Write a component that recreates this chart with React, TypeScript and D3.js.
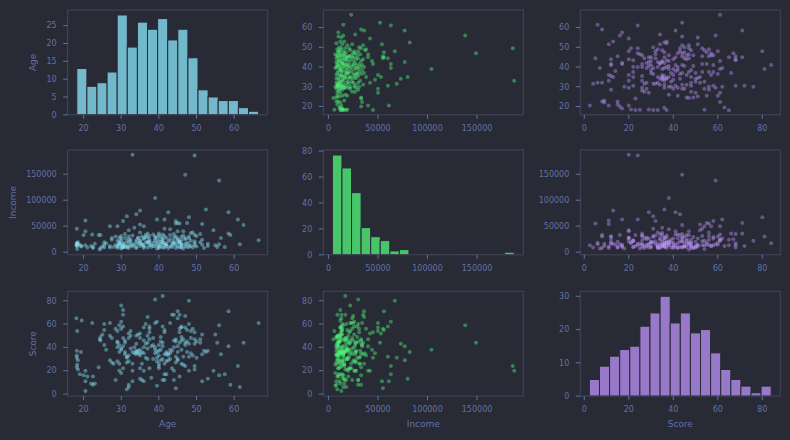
import React from 'react';
import * as d3 from 'd3';

// Pair plot of Age / Income / Score (250 customers)
const variables = ['Age', 'Income', 'Score'];

// raw points, one entry per customer (same index in each array)
const ages = [
  18.1, 18.3, 19.5, 18.2, 19.3, 18.2, 18.2, 18.5, 18.3, 18.2, 18.5, 19.0, 20.5, 20.0, 21.0, 20.5,
  20.5, 22.3, 22.5, 23.0, 22.5, 22.0, 24.0, 24.5, 24.3, 24.5, 25.0, 25.5, 25.5, 25.5, 26.0,
  27.0, 27.0, 27.5, 27.0, 27.5, 28.0, 28.5, 28.5, 29.0, 29.0, 29.5, 29.0, 30.0, 29.5, 29.0, 29.5,
  29.5, 30.0, 30.0, 30.5, 30.5, 30.0, 30.5, 29.5, 30.0,
  30.5, 31.0, 31.0, 30.5, 31.0, 31.5, 31.5, 31.5, 32.0, 31.5, 32.0, 32.0, 32.0, 32.5, 32.5, 32.0,
  32.5, 33.0, 33.0, 33.0, 33.0, 33.5, 34.0, 34.0, 34.5, 34.5, 35.0, 35.0, 35.0, 34.0, 34.0, 34.5,
  35.0, 35.0, 35.0, 35.0, 35.5, 36.0, 35.5, 36.0,
  36.0, 36.5, 36.0, 36.5, 36.0, 36.5, 37.0, 37.0, 37.5, 37.5, 37.5, 37.0, 37.5, 37.0, 37.5, 38.0,
  39.0, 39.5, 39.0, 38.5, 38.5, 39.0, 39.0, 39.5, 40.0, 40.0, 39.5, 39.5, 40.0, 40.5, 40.0, 39.5, 40.0,
  40.5, 40.5, 41.0, 41.0, 41.0, 41.0, 41.5, 41.5, 41.0, 41.5, 41.5, 41.0, 41.5, 42.0, 42.0, 42.0,
  42.5, 43.0, 42.5, 43.0, 43.5, 42.5, 43.0, 43.5, 44.0, 43.5, 44.0, 44.0, 44.5,
  44.0, 44.5, 44.5, 45.0, 45.0, 44.5, 45.0, 45.0, 44.5, 45.0, 45.5, 45.0, 45.5, 46.0, 46.0, 45.5,
  46.0, 46.5, 47.0, 47.5, 47.0, 46.0, 46.5, 46.0, 46.5, 47.0, 45.5, 47.0, 47.0, 48.0, 48.0, 47.5,
  48.5, 48.0, 48.5, 48.0, 48.0,
  49.0, 49.5, 49.5, 49.5, 49.0, 50.0, 49.5, 49.5, 50.0, 51.0, 51.0, 51.5, 51.5, 52.0, 52.5, 53.0,
  51.5, 53.0, 54.5, 55.0, 55.5, 56.0, 56.0, 56.5, 57.5, 58.5, 58.5, 59.0, 61.0, 61.5, 62.5, 66.5,
  29.0, 30.0, 31.0, 32.0, 33.5, 34.0, 35.5, 36.0, 37.0, 38.0, 38.5, 39.0, 40.0, 40.5, 41.5, 42.0,
  43.0, 44.0, 45.5, 46.0, 47.5, 48.5, 30.5,
];

const incomes = [
  13000, 6000, 12000, 18000, 11000, 15000, 45000, 14000, 16000, 12000, 19000, 14000, 40000, 33000, 9000, 61000,
  13000, 34000, 10000, 16000, 8000, 12000, 33000, 8000, 5000, 33000, 11000, 14000, 19000, 9000, 17000,
  50000, 12000, 24000, 9000, 27000, 10000, 30000, 14000, 50000, 22000, 17000, 8000, 13000, 28000, 11000, 16000,
  20000, 7000, 22000, 12000, 9000, 26000, 60000, 15000, 31000,
  18000, 10000, 27000, 14000, 35000, 69000, 21000, 12000, 25000, 9000, 18000, 30000, 42000, 13000, 20000, 8000,
  24000, 15000, 32000, 187500, 11000, 47000, 19000, 23000, 16000, 28000, 12000, 21000, 38000, 73000, 10000, 26000,
  53000, 17000, 80000, 22000, 30000, 8000, 14000, 27000,
  50000, 18000, 25000, 33000, 11000, 29000, 20000, 36000, 13000, 24000, 31000, 9000, 17000, 28000, 21000, 14000,
  30000, 63000, 22000, 12000, 34000, 104000, 26000, 15000, 32000, 10000, 19000, 28000, 36000, 16000, 23000, 7000, 13000,
  29000, 11000, 20000, 34000, 17000, 26000, 14000, 45000, 9000, 31000, 18000, 24000, 63000, 12000, 27000, 15000,
  21000, 33000, 8000, 44000, 18000, 77000, 25000, 13000, 35000, 10000, 28000, 16000, 55000,
  22000, 14000, 30000, 40000, 11000, 60000, 19000, 26000, 8000, 56000, 17000, 24000, 55000, 12000, 29000, 21000,
  9000, 40000, 149000, 18000, 27000, 14000, 32000, 23000, 7000, 16000, 20000, 25000, 12000, 67000, 30000, 56000,
  22000, 10000, 37000, 15000, 26000,
  38000, 13000, 33000, 21000, 9000, 31000, 186000, 17000, 11000, 19000, 35000, 14000, 24000, 8000, 82000, 12000,
  54000, 16000, 42000, 13000, 10000, 138000, 15000, 27000, 10000, 36000, 77000, 33000, 63000, 15000, 52000, 23000,
  12000, 9000, 15000, 11000, 14000, 8000, 16000, 13000, 19000, 10000, 18000, 12000, 8000, 20000, 9000, 14000,
  11000, 18000, 9000, 16000, 10000, 12000, 10000,
];

const scores = [
  65, 54, 63, 37, 36, 33, 31, 29, 25, 23, 21, 17, 20, 16, 15, 11,
  2.5, 61, 15, 9, 8, 9, 23, 49, 47, 46, 51, 60, 55, 42, 38,
  61, 50, 48, 29, 27, 26, 12, 56, 54, 44, 42, 40, 38, 36, 28, 26,
  20, 18, 76, 72, 68, 62, 58, 59, 56,
  48, 46, 44, 41, 34, 31, 32, 27, 28, 4, 6, 8, 52, 54, 50, 48,
  39, 36, 26, 20, 11, 35, 37, 36, 35, 37, 35, 38, 33, 43, 50, 51,
  52, 48, 13, 22, 12, 11, 26, 20,
  57, 60, 46, 43, 40, 31, 30, 66, 58, 56, 53, 50, 47, 44, 22, 14,
  81, 62, 61, 48, 42, 38, 40, 36, 37, 33, 31, 28, 26, 29, 22, 7, 24,
  49, 45, 44, 41, 84, 58, 55, 53, 30, 26, 12, 12, 17, 17, 36, 34,
  35, 35, 33, 38, 37, 29, 61, 68, 68, 22, 20, 12, 5,
  46, 47, 45, 41, 36, 32, 30, 29, 27, 71, 68, 65, 56, 57, 58, 53,
  49, 47, 44, 45, 42, 38, 32, 26, 25, 24, 15, 67, 57, 80, 60, 55,
  54, 43, 35, 32, 20,
  56, 53, 47, 43, 33, 31, 24, 21, 45, 47, 44, 51, 34, 37, 36, 37,
  11, 13, 20, 51, 44, 59, 16, 34, 17, 71, 41, 8, 24, 6, 44, 61,
  45, 39, 36, 33, 40, 34, 36, 35, 39, 41, 30, 35, 42, 38, 34, 28,
  30, 40, 44, 46, 36, 48, 22,
];

// histogram counts on the diagonal (equal-width bins over each range)
const ageCounts = [13, 8, 9, 12, 28, 19, 26, 24, 27, 21, 24, 16, 7, 5, 4, 4, 2, 1];
const incomeCounts = [77, 67, 48, 21, 14, 11, 3, 4, 0, 0, 1, 0, 0, 1, 1, 0, 0, 0, 2];
const scoreCounts = [5, 9, 12, 14, 15, 21, 25, 30, 22, 25, 19, 20, 13, 8, 5, 3, 1, 3];
const ageRange = [18.2, 66.5];
const incomeRange = [4000, 187500];
const scoreRange = [2.3, 84];

// tick labels
const ageTicks = [20, 30, 40, 50, 60];
const incomeTicks = [0, 50000, 100000, 150000];
const scoreTicks = [0, 20, 40, 60, 80];
const ageCountTicks = [0, 5, 10, 15, 20, 25];
const incomeCountTicks = [0, 20, 40, 60, 80];
const scoreCountTicks = [0, 10, 20, 30];

const columns = [ages, incomes, scores];
const ranges = [ageRange, incomeRange, scoreRange];
const counts = [ageCounts, incomeCounts, scoreCounts];
const valueTicks = [ageTicks, incomeTicks, scoreTicks];
const countTicks = [ageCountTicks, incomeCountTicks, scoreCountTicks];

const BG = '#282a36';
const FRAME = '#44475a';
const TEXT = '#6272a4';
const colors = ['#8be9fd', '#50fa7b', '#bd93f9'];
const FONT = 'DejaVu Sans, sans-serif';

const colX = [67.7, 323.3, 580.3];
const rowY = [10, 150, 291.3];
const labelX = [36, 16, 36]; // y-axis title sits left of the widest tick label
const PW = 200;
const PH = 104.8;

const padded = (r: number[]) => {
  const p = (r[1] - r[0]) * 0.05;
  return [r[0] - p, r[1] + p];
};

const Panel = ({ row, col }: { row: number; col: number }) => {
  const x0 = colX[col];
  const y0 = rowY[row];
  const sx = d3.scaleLinear().domain(padded(ranges[col])).range([x0, x0 + PW]);
  let sy: d3.ScaleLinear<number, number>;
  let yTicks: number[];
  let marks: React.ReactNode;

  if (row === col) {
    const c = counts[col];
    sy = d3.scaleLinear().domain([0, (d3.max(c) as number) * 1.05]).range([y0 + PH, y0]);
    yTicks = countTicks[col];
    const [lo, hi] = ranges[col];
    const w = (hi - lo) / c.length;
    marks = c.map((n, i) => (
      <rect
        key={i}
        x={sx(lo + i * w)}
        y={sy(n)}
        width={sx(lo + (i + 1) * w) - sx(lo + i * w)}
        height={sy(0) - sy(n)}
        fill={colors[col]}
        fillOpacity={0.75}
        stroke={BG}
        strokeWidth={1}
      />
    ));
  } else {
    sy = d3.scaleLinear().domain(padded(ranges[row])).range([y0 + PH, y0]);
    yTicks = valueTicks[row];
    const xs = columns[col];
    const ys = columns[row];
    marks = xs.map((v, i) => (
      <circle key={i} cx={sx(v)} cy={sy(ys[i])} r={2} fill={colors[col]} fillOpacity={0.42} />
    ));
  }

  return (
    <g>
      {marks}
      <rect x={x0} y={y0} width={PW} height={PH} fill="none" stroke={FRAME} strokeWidth={1} />
      {valueTicks[col].map((t) => (
        <g key={'x' + t}>
          <line x1={sx(t)} x2={sx(t)} y1={y0 + PH} y2={y0 + PH + 4} stroke={TEXT} />
          <text x={sx(t)} y={y0 + PH + 16} textAnchor="middle" fontSize={8} fill={TEXT} fontFamily={FONT}>
            {t}
          </text>
        </g>
      ))}
      {yTicks.map((t) => (
        <g key={'y' + t}>
          <line x1={x0 - 4.5} x2={x0} y1={sy(t)} y2={sy(t)} stroke={TEXT} />
          <text x={x0 - 11} y={sy(t)} dy="0.35em" textAnchor="end" fontSize={8} fill={TEXT} fontFamily={FONT}>
            {t}
          </text>
        </g>
      ))}
      {col === 0 && (
        <text
          transform={`translate(${labelX[row]}, ${y0 + PH / 2}) rotate(-90)`}
          textAnchor="middle"
          fontSize={9}
          fill={TEXT}
          fontFamily={FONT}
        >
          {variables[row]}
        </text>
      )}
      {row === 2 && (
        <text x={x0 + PW / 2} y={427} textAnchor="middle" fontSize={9} fill={TEXT} fontFamily={FONT}>
          {variables[col]}
        </text>
      )}
    </g>
  );
};

const App = () => {
  return (
    <svg
      width={790}
      height={440}
      style={{ position: 'absolute', left: 0, top: 0, display: 'block' }}
    >
      <rect width={790} height={440} fill={BG} />
      {[0, 1, 2].map((r) => [0, 1, 2].map((c) => <Panel key={`${r}-${c}`} row={r} col={c} />))}
    </svg>
  );
};

export default App;
